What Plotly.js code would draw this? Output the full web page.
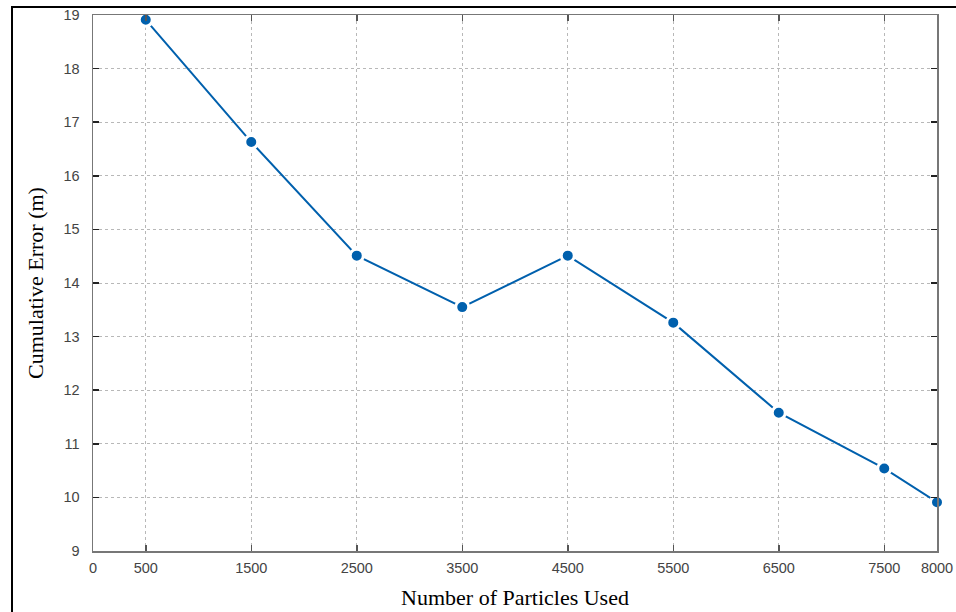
<!DOCTYPE html>
<html>
<head>
<meta charset="utf-8">
<script src="https://cdn.plot.ly/plotly-3.0.1.min.js"></script>
<style>
  html, body { margin: 0; padding: 0; background: #fff; }
  #wrap { position: relative; width: 956px; height: 612px; }
  #chart { width: 956px; height: 612px; }
  #frame { position: absolute; left: 11px; top: 6px; right: -10px; bottom: -10px;
           border-left: 2px solid #000; border-top: 2px solid #000; pointer-events: none; }
</style>
</head>
<body>
<div id="wrap">
  <div id="chart"></div>
  <div id="frame"></div>
</div>
<script>
const particles = [500, 1500, 2500, 3500, 4500, 5500, 6500, 7500, 8000];
const cumulativeError = [18.91, 16.63, 14.51, 13.55, 14.51, 13.26, 11.58, 10.54, 9.91];
const xTickVals = [0, 500, 1500, 2500, 3500, 4500, 5500, 6500, 7500, 8000];
const xTickText = ['0', '500', '1500', '2500', '3500', '4500', '5500', '6500', '7500', '8000'];
const yTickVals = [9, 10, 11, 12, 13, 14, 15, 16, 17, 18, 19];

const trace = {
  x: particles,
  y: cumulativeError,
  type: 'scatter',
  mode: 'lines+markers',
  line: { color: '#0060ad', width: 2 },
  marker: { color: '#0060ad', size: 13, line: { color: '#ffffff', width: 3 } },
  cliponaxis: false,
  hoverinfo: 'x+y'
};

const tickFont = { family: 'Liberation Sans, Arial, sans-serif', size: 14.5, color: '#444' };
const titleFont = { family: 'Liberation Serif, Times New Roman, serif', size: 22, color: '#000' };

const layout = {
  width: 956, height: 612,
  margin: { l: 93, r: 19, t: 15, b: 61 },
  paper_bgcolor: '#ffffff',
  plot_bgcolor: '#ffffff',
  showlegend: false,
  font: tickFont,
  xaxis: {
    range: [0, 8000],
    tickvals: xTickVals,
    ticktext: xTickText,
    ticks: 'inside', ticklen: 6, tickcolor: '#555', tickwidth: 1.5,
    ticklabelstandoff: 3,
    showline: true, linecolor: '#777', linewidth: 1.5, mirror: 'ticks',
    showgrid: true, gridcolor: '#b8b8b8', gridwidth: 1, griddash: 'dot',
    zeroline: false,
    tickfont: tickFont,
    title: { text: 'Number of Particles Used', standoff: 14, font: titleFont }
  },
  yaxis: {
    range: [9, 19],
    tickvals: yTickVals,
    ticks: 'inside', ticklen: 6, tickcolor: '#222', tickwidth: 1.5,
    ticklabelstandoff: 9,
    showline: true, linecolor: '#777', linewidth: 1.5, mirror: 'ticks',
    showgrid: true, gridcolor: '#b8b8b8', gridwidth: 1, griddash: 'dot',
    zeroline: false,
    tickfont: tickFont,
    title: { text: 'Cumulative Error (m)', standoff: 14, font: titleFont }
  }
};

Plotly.newPlot('chart', [trace], layout, { displayModeBar: false, staticPlot: true });
</script>
</body>
</html>
